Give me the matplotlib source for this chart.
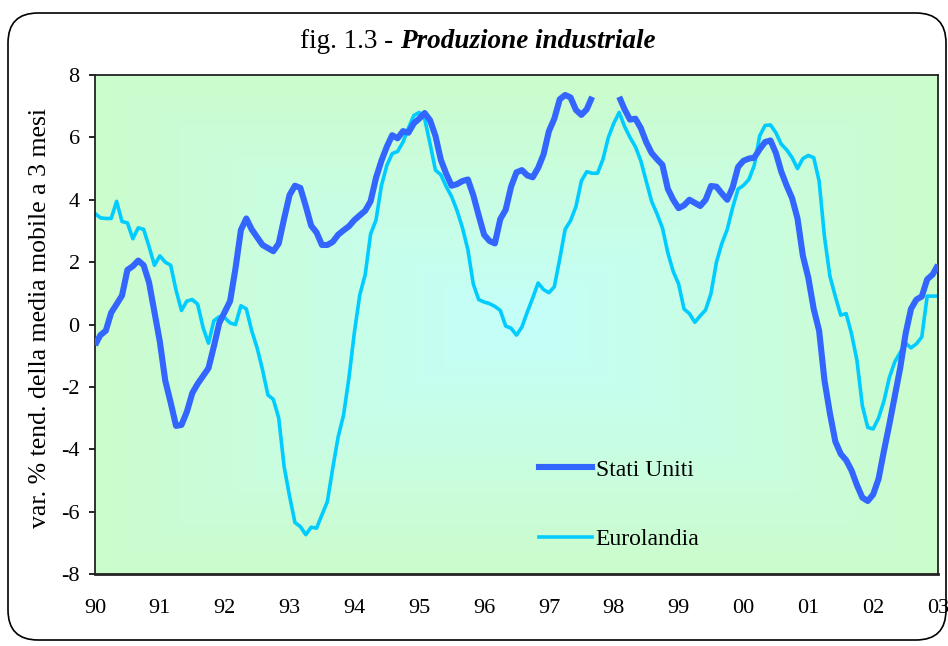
import numpy as np
import matplotlib
matplotlib.use('Agg')
import matplotlib.pyplot as plt
from matplotlib.patches import FancyBboxPatch
from matplotlib.lines import Line2D
from matplotlib.transforms import IdentityTransform

plt.rcParams['font.family'] = ['Liberation Serif', 'DejaVu Serif']

# ---- data (monthly, Jan 1990 .. Jan 2003) ----
year_labels = ['90', '91', '92', '93', '94', '95', '96', '97', '98', '99',
               '00', '01', '02', '03']
y_ticks = [-8, -6, -4, -2, 0, 2, 4, 6, 8]

stati_uniti = [
    -0.66, -0.34, -0.20, 0.38, 0.65, 0.93, 1.75, 1.87, 2.05, 1.90, 1.35, 0.40,
    -0.55, -1.80, -2.50, -3.25, -3.22, -2.80, -2.20, -1.90, -1.65, -1.40, -0.70, 0.05,
    0.40, 0.75, 1.80, 3.03, 3.40, 3.05, 2.80, 2.55, 2.45, 2.35, 2.60, 3.40,
    4.15, 4.45, 4.38, 3.80, 3.17, 2.95, 2.55, 2.55, 2.65, 2.88, 3.02, 3.15,
    3.35, 3.50, 3.65, 3.95, 4.70, 5.25, 5.70, 6.07, 5.97, 6.20, 6.15, 6.45,
    6.60, 6.78, 6.55, 6.05, 5.28, 4.83, 4.45, 4.50, 4.60, 4.65, 4.15, 3.50,
    2.88, 2.68, 2.60, 3.38, 3.68, 4.42, 4.88, 4.95, 4.78, 4.72, 5.02, 5.45,
    6.20, 6.60, 7.22, 7.36, 7.28, 6.88, 6.72, 6.90, 7.30, 8.35, 8.12, 8.30,
    8.40, 7.30, 6.90, 6.57, 6.60, 6.30, 5.85, 5.50, 5.30, 5.12, 4.35, 4.00,
    3.73, 3.82, 4.00, 3.90, 3.80, 4.00, 4.44, 4.42, 4.20, 4.00, 4.40, 5.05,
    5.25, 5.32, 5.35, 5.62, 5.85, 5.90, 5.50, 4.90, 4.45, 4.05, 3.40, 2.20,
    1.50, 0.50, -0.20, -1.80, -2.85, -3.75, -4.15, -4.35, -4.68, -5.15, -5.55, -5.66,
    -5.45, -4.95, -4.05, -3.20, -2.30, -1.40, -0.30, 0.50, 0.80, 0.90, 1.45, 1.60,
    1.91,
]

eurolandia = [
    3.56, 3.42, 3.40, 3.40, 3.95, 3.30, 3.26, 2.75, 3.10, 3.05, 2.50, 1.90,
    2.20, 2.00, 1.90, 1.10, 0.45, 0.75, 0.80, 0.65, -0.10, -0.60, 0.12, 0.25,
    0.22, 0.05, 0.00, 0.60, 0.50, -0.20, -0.75, -1.45, -2.26, -2.40, -3.00, -4.56,
    -5.50, -6.35, -6.48, -6.74, -6.50, -6.53, -6.10, -5.68, -4.60, -3.60, -2.90, -1.70,
    -0.25, 0.95, 1.60, 2.90, 3.35, 4.45, 5.10, 5.48, 5.55, 5.85, 6.30, 6.70,
    6.80, 6.60, 5.80, 4.95, 4.80, 4.42, 4.10, 3.65, 3.10, 2.40, 1.30, 0.80,
    0.72, 0.67, 0.58, 0.45, -0.05, -0.12, -0.34, -0.08, 0.40, 0.85, 1.33, 1.12,
    1.02, 1.21, 2.10, 3.05, 3.33, 3.78, 4.60, 4.90, 4.85, 4.85, 5.30, 6.00,
    6.45, 6.80, 6.35, 6.00, 5.70, 5.25, 4.60, 3.95, 3.55, 3.10, 2.30, 1.70,
    1.30, 0.50, 0.35, 0.07, 0.28, 0.47, 1.00, 2.00, 2.60, 3.05, 3.75, 4.34,
    4.46, 4.65, 5.10, 6.05, 6.38, 6.40, 6.15, 5.78, 5.60, 5.35, 5.00, 5.32,
    5.42, 5.35, 4.60, 2.80, 1.55, 0.90, 0.30, 0.35, -0.30, -1.15, -2.60, -3.30,
    -3.35, -3.00, -2.45, -1.70, -1.20, -0.90, -0.60, -0.75, -0.62, -0.40, 0.91, 0.91,
    0.91,
]

series_names = ['Stati Uniti', 'Eurolandia']
title_plain = 'fig. 1.3 - '
title_bold = 'Produzione industriale'
y_label = 'var. % tend. della media mobile a 3 mesi'

Y_MIN, Y_MAX = -8, 8

W, H = 948, 646
fig = plt.figure(figsize=(W / 100, H / 100), dpi=100)
fig.patch.set_facecolor('white')

# rounded outer frame
frame = FancyBboxPatch((8, H - 640), 938, 627,
                       boxstyle='round,pad=0,rounding_size=30',
                       transform=IdentityTransform(), fill=False,
                       edgecolor='black', linewidth=1.2)
fig.patches.append(frame)

L, R, T, B = 95, 938, 75, 574
ax = fig.add_axes([L / W, 1 - B / H, (R - L) / W, (B - T) / H])

# gradient background (rectangular, from center)
n = 300
u = np.linspace(-1, 1, n)
U, V = np.meshgrid(u, u)
t = np.maximum(np.abs(U), np.abs(V))
center = np.array([0.77, 1.0, 0.98])
edge = np.array([0.80, 0.99, 0.80])
img = center[None, None, :] * (1 - t[..., None]) + edge[None, None, :] * t[..., None]
ax.imshow(img, extent=[0, 1, 0, 1], transform=ax.transAxes, aspect='auto',
          zorder=0, interpolation='bilinear')

months = np.arange(len(stati_uniti))
# like the original chart, points outside the axis range are not drawn
us_plot = np.array(stati_uniti, dtype=float)
us_plot[(us_plot > Y_MAX) | (us_plot < Y_MIN)] = np.nan
eu_plot = np.array(eurolandia, dtype=float)
eu_plot[(eu_plot > Y_MAX) | (eu_plot < Y_MIN)] = np.nan

ax.plot(months, us_plot, color='#3366FF', linewidth=4.4,
        solid_joinstyle='round', solid_capstyle='butt', zorder=3)
ax.plot(months, eu_plot, color='#00CCFF', linewidth=2.6,
        solid_joinstyle='round', solid_capstyle='butt', zorder=2)

ax.set_xlim(0, len(stati_uniti) - 1)
ax.set_ylim(Y_MIN, Y_MAX)
ax.set_xticks(np.arange(0, 12 * len(year_labels), 12)[:len(year_labels)])
ax.set_xticklabels(year_labels)
ax.set_yticks(y_ticks)
ax.set_yticklabels([str(v) for v in y_ticks])
ax.tick_params(axis='x', length=0, pad=18, labelsize=16)
ax.tick_params(axis='y', length=4, width=1.2, pad=7, labelsize=16, direction='out')
for s in ax.spines.values():
    s.set_color('#222222')
    s.set_linewidth(1.3)
ax.spines['bottom'].set_linewidth(2.0)

ax.set_ylabel(y_label, fontsize=18.5)
ax.yaxis.set_label_coords(-(95 - 51) / (R - L), (B - 318) / (B - T))

ax.legend([Line2D([], [], color='#3366FF', lw=4.4), Line2D([], [], color='#00CCFF', lw=2.6)],
          series_names, loc='upper left', bbox_to_anchor=(539 / W, 1 - 459 / H),
          bbox_transform=fig.transFigure, frameon=False, fontsize=17,
          handlelength=2.25, handletextpad=0.15, labelspacing=2.05,
          borderpad=0, borderaxespad=0)

# title in two styles, centred as a whole
renderer = fig.canvas.get_renderer()
ty = 1 - 42 / H
t1 = fig.text(0, ty, title_plain, fontsize=19.5, va='center', ha='left')
t2 = fig.text(0, ty, title_bold, fontsize=19.5, va='center', ha='left',
              weight='bold', style='italic')
w1 = t1.get_window_extent(renderer).width
w2 = t2.get_window_extent(renderer).width
x0 = 478 - (w1 + w2) / 2
t1.set_x(x0 / W)
t2.set_x((x0 + w1) / W)

fig.savefig('out.png', dpi=100)
